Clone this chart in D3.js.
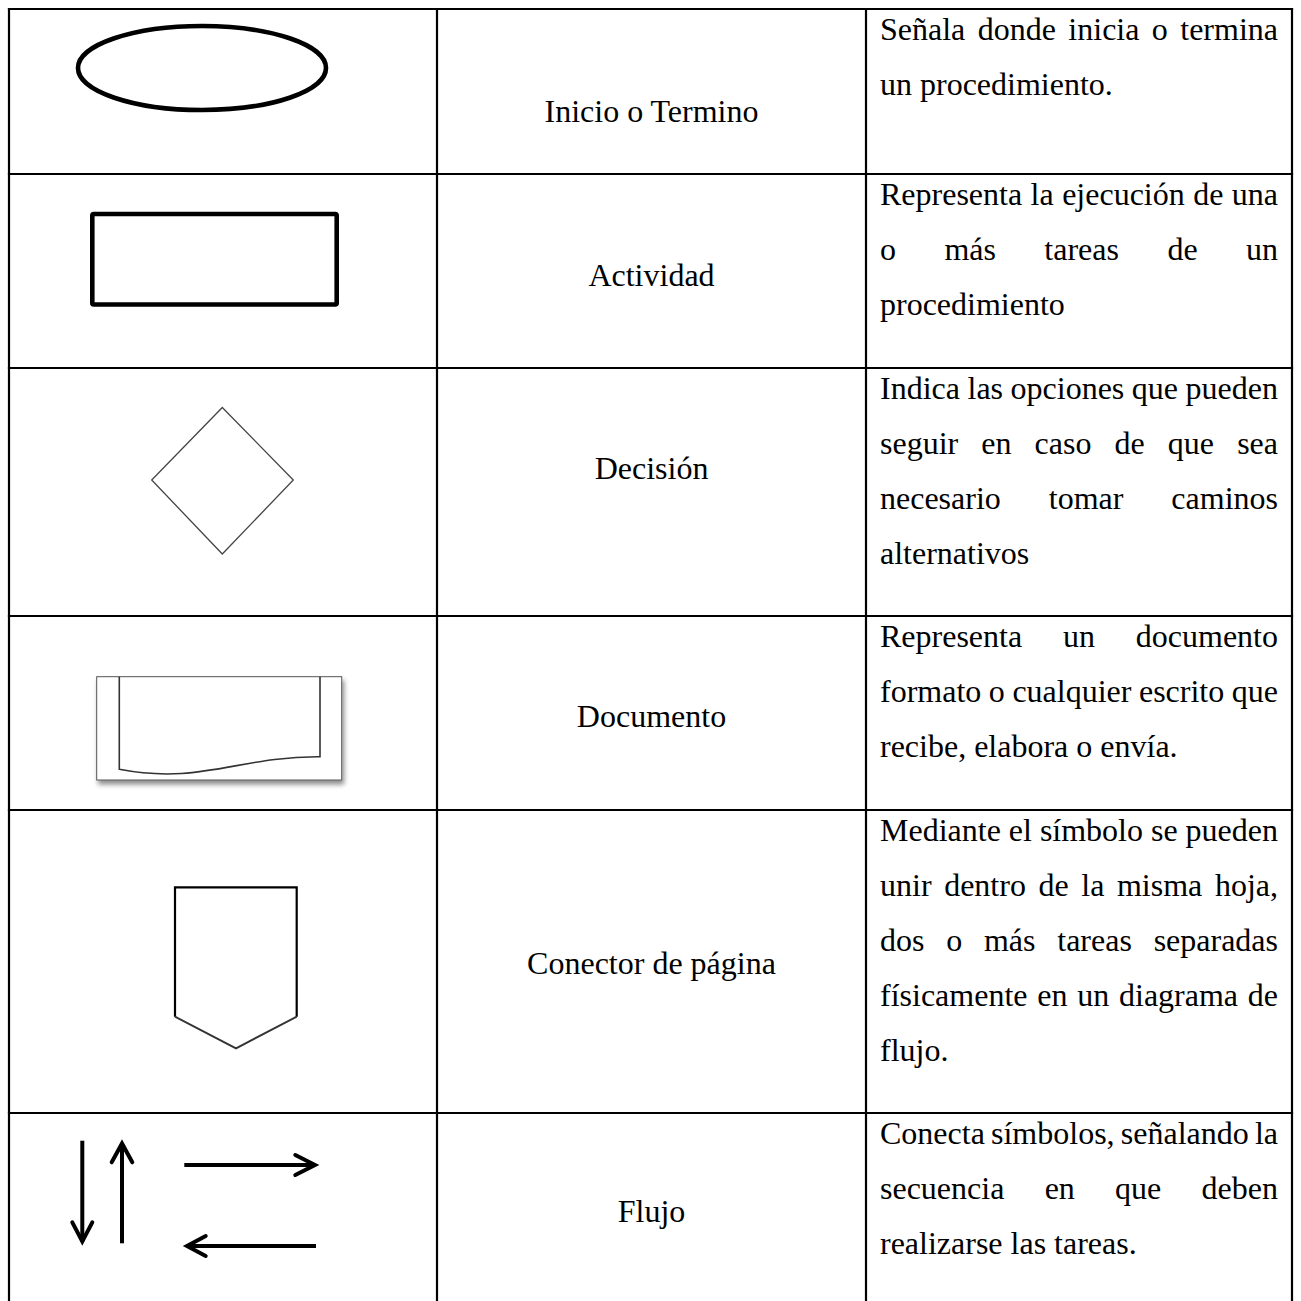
<!DOCTYPE html>
<html>
<head>
<meta charset="utf-8">
<script src="https://cdn.jsdelivr.net/npm/d3@7"></script>
<style>
  html, body { margin: 0; padding: 0; background: #fff; }
  svg { display: block; }
</style>
</head>
<body>
<div id="chart"></div>
<script>
// ---------------- data ----------------
const symbols = ["ellipse", "rect", "diamond", "document", "connector", "flow"];
const labels = ["Inicio o Termino", "Actividad", "Decisión", "Documento", "Conector de página", "Flujo"];
const descriptions = [
  ["Señala donde inicia o termina", "un procedimiento."],
  ["Representa la ejecución de una", "o más tareas de un", "procedimiento"],
  ["Indica las opciones que pueden", "seguir en caso de que sea", "necesario tomar caminos", "alternativos"],
  ["Representa un documento", "formato o cualquier escrito que", "recibe, elabora o envía."],
  ["Mediante el símbolo se pueden", "unir dentro de la misma hoja,", "dos o más tareas separadas", "físicamente en un diagrama de", "flujo."],
  ["Conecta símbolos, señalando la", "secuencia en que deben", "realizarse las tareas."]
];

// ---------------- layout ----------------
const W = 1301, H = 1301;
const rowEdges = [9, 174, 368, 616, 810, 1113, 1320];
const colEdges = [9, 437, 866, 1292];
const labelBaseline = [122, 286, 479, 727, 974, 1222];
const font = "'Liberation Serif', 'Times New Roman', serif";
const fontSize = 32;
const lineH = 55;
const descPad = 14;
const descFirstBaseline = 31;

const svg = d3.select("#chart").append("svg")
  .attr("width", W).attr("height", H)
  .attr("viewBox", `0 0 ${W} ${H}`);

svg.append("rect").attr("width", W).attr("height", H).attr("fill", "#fff");

const defs = svg.append("defs");
const f = defs.append("filter").attr("id", "shadow")
  .attr("x", "-10%").attr("y", "-10%").attr("width", "125%").attr("height", "140%");
f.append("feDropShadow").attr("dx", 2).attr("dy", 4).attr("stdDeviation", 2.5)
  .attr("flood-color", "#000").attr("flood-opacity", 0.45);

// row index scale -> cell bounds
const rowIdx = d3.range(symbols.length);
const yTop = d3.scaleOrdinal().domain(rowIdx).range(rowEdges.slice(0, -1));
const yBot = d3.scaleOrdinal().domain(rowIdx).range(rowEdges.slice(1));

// ---------------- grid ----------------
const grid = svg.append("g").attr("stroke", "#000").attr("stroke-width", 2.2);
grid.selectAll("line.h").data(rowEdges).join("line").attr("class", "h")
  .attr("x1", colEdges[0] - 1.1).attr("x2", colEdges[colEdges.length - 1] + 1.1)
  .attr("y1", d => d).attr("y2", d => d);
grid.selectAll("line.v").data(colEdges).join("line").attr("class", "v")
  .attr("x1", d => d).attr("x2", d => d)
  .attr("y1", rowEdges[0] - 1.1).attr("y2", rowEdges[rowEdges.length - 1]);

// ---------------- labels (column 2) ----------------
const cx2 = (colEdges[1] + colEdges[2]) / 2;
svg.append("g").selectAll("text").data(labels).join("text")
  .attr("x", cx2)
  .attr("y", (d, i) => labelBaseline[i])
  .attr("text-anchor", "middle")
  .attr("font-family", font).attr("font-size", fontSize).attr("fill", "#000")
  .text(d => d);

// ---------------- descriptions (column 3, justified) ----------------
const dLeft = colEdges[2] + descPad;
const dRight = colEdges[3] - descPad;
const dWidth = dRight - dLeft;
const measure = svg.append("text").attr("font-family", font).attr("font-size", fontSize)
  .attr("visibility", "hidden");
function wordW(w) { measure.text(w); return measure.node().getComputedTextLength(); }

const descG = svg.append("g").attr("font-family", font).attr("font-size", fontSize).attr("fill", "#000");
descriptions.forEach((lines, r) => {
  lines.forEach((line, li) => {
    const y = yTop(r) + descFirstBaseline + li * lineH;
    const isLast = li === lines.length - 1;
    if (isLast) {
      descG.append("text").attr("x", dLeft).attr("y", y).text(line);
    } else {
      const words = line.split(" ");
      const widths = words.map(wordW);
      const total = d3.sum(widths);
      const gap = words.length > 1 ? (dWidth - total) / (words.length - 1) : 0;
      let x = dLeft;
      words.forEach((w, k) => {
        descG.append("text").attr("x", x).attr("y", y).text(w);
        x += widths[k] + gap;
      });
    }
  });
});
measure.remove();

// ---------------- symbols (column 1) ----------------
const c1x = d3.scaleLinear().domain([0, 1]).range([colEdges[0], colEdges[1]]);
const symG = svg.append("g");
symbols.forEach((s, r) => {
  const cy = d3.scaleLinear().domain([0, 1]).range([yTop(r), yBot(r)]);
  const g = symG.append("g");
  if (s === "ellipse") {
    g.append("ellipse")
      .attr("cx", 202).attr("cy", 68).attr("rx", 124).attr("ry", 42)
      .attr("fill", "none").attr("stroke", "#000").attr("stroke-width", 4.6);
  } else if (s === "rect") {
    g.append("rect")
      .attr("x", 92.3).attr("y", 214).attr("width", 244.4).attr("height", 90.5)
      .attr("rx", 1.5)
      .attr("fill", "none").attr("stroke", "#000").attr("stroke-width", 4.6);
  } else if (s === "diamond") {
    const pts = [[222.3, 407.5], [293.3, 480], [222.3, 554], [151.7, 480]];
    g.append("path").attr("d", d3.line()(pts) + "Z")
      .attr("fill", "none").attr("stroke", "#444").attr("stroke-width", 1.3);
  } else if (s === "document") {
    g.append("rect")
      .attr("x", 96.7).attr("y", 676.7).attr("width", 245).attr("height", 103.3)
      .attr("fill", "#fff").attr("stroke", "#555").attr("stroke-width", 1)
      .attr("filter", "url(#shadow)");
    g.append("path")
      .attr("d", "M119.3,676.7 L119.3,769.3 C200,785 240,756 320,756.7 L320,676.7")
      .attr("fill", "none").attr("stroke", "#333").attr("stroke-width", 1.6);
  } else if (s === "connector") {
    g.append("path")
      .attr("d", "M175,1016.7 L175,887.3 L296.7,887.3 L296.7,1016.7")
      .attr("fill", "none").attr("stroke", "#000").attr("stroke-width", 2.2);
    g.append("path")
      .attr("d", "M175,1016.7 L236,1048.3 L296.7,1016.7")
      .attr("fill", "none").attr("stroke", "#333").attr("stroke-width", 2);
  } else if (s === "flow") {
    const st = { stroke: "#000", sw: 4 };
    const arrows = [
      { shaft: [[82.3, 1140.7], [82.3, 1241.5]], head: [[72.3, 1222.3], [82.3, 1241.5], [92.3, 1222.3]] },
      { shaft: [[122, 1243.3], [122, 1143.5]], head: [[111.7, 1162.3], [122, 1143.5], [132.3, 1162.3]] },
      { shaft: [[184.3, 1165], [315, 1165]], head: [[295.3, 1155], [315, 1165], [295.3, 1175]] },
      { shaft: [[316, 1246], [187, 1246]], head: [[205.7, 1236], [187, 1246], [205.7, 1256]] }
    ];
    arrows.forEach(a => {
      g.append("path").attr("d", d3.line()(a.shaft))
        .attr("fill", "none").attr("stroke", st.stroke).attr("stroke-width", st.sw);
      g.append("path").attr("d", d3.line()(a.head))
        .attr("fill", "none").attr("stroke", st.stroke).attr("stroke-width", st.sw)
        .attr("stroke-linecap", "round").attr("stroke-linejoin", "miter");
    });
  }
});
</script>
</body>
</html>
